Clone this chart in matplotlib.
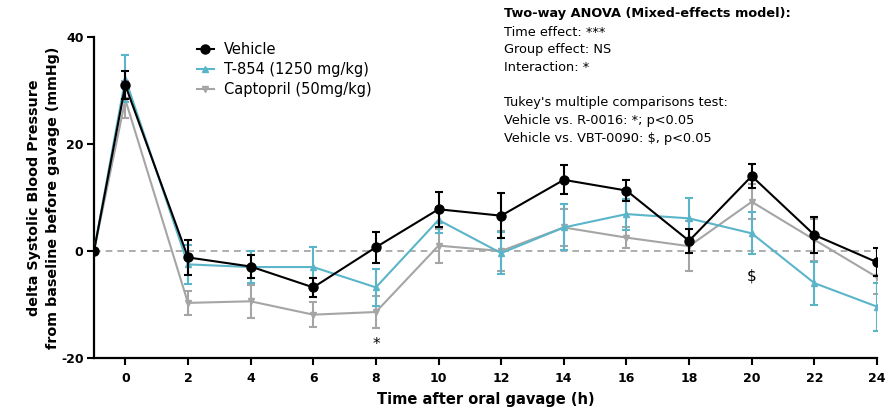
import matplotlib.pyplot as plt
from matplotlib.lines import Line2D

plt.rcParams['font.family'] = ['DejaVu Sans']
plt.rcParams['axes.unicode_minus'] = False

hours = [-1, 0, 2, 4, 6, 8, 10, 12, 14, 16, 18, 20, 22, 24]

vehicle = [0, 31.0, -1.2, -2.9, -6.8, 0.7, 7.8, 6.6, 13.3, 11.3, 1.9, 14.0, 3.0, -2.1]
vehicle_sem = [0, 2.6, 3.2, 2.1, 1.8, 2.9, 3.3, 4.2, 2.7, 2.0, 2.2, 2.3, 3.4, 2.6]

t854 = [0, 32.2, -2.5, -3.0, -3.0, -6.8, 5.8, -0.4, 4.4, 6.9, 6.1, 3.3, -6.0, -10.4]
t854_sem = [0, 4.4, 3.6, 3.0, 3.8, 3.4, 2.5, 3.9, 4.3, 2.9, 3.8, 3.9, 4.0, 4.5]

captopril = [0, 28.3, -9.7, -9.4, -11.9, -11.4, 1.0, 0.0, 4.4, 2.5, 0.9, 9.2, 2.1, -4.9]
captopril_sem = [0, 3.5, 2.2, 3.1, 2.3, 3.0, 3.2, 3.8, 3.4, 2.0, 4.7, 3.3, 3.9, 3.2]

xticks = list(range(0, 25, 2))
yticks = [-20, 0, 20, 40]

stats_lines = [
    "Time effect: ***",
    "Group effect: NS",
    "Interaction: *",
    "",
    "Tukey's multiple comparisons test:",
    "Vehicle vs. R-0016: *; p<0.05",
    "Vehicle vs. VBT-0090: $, p<0.05",
]

fig = plt.figure(figsize=(8.96, 4.18), dpi=100)
ax = fig.add_axes([94 / 896, 60 / 418, 783 / 896, 321 / 418])

ax.axhline(0, color='#a0a0a0', linestyle=(0, (4, 3)), linewidth=1.2, zorder=1)

ax.errorbar(hours, captopril, yerr=captopril_sem, color='#a5a5a5', marker='v', markersize=5,
            linewidth=1.5, capsize=3, capthick=1.5, elinewidth=1.5, zorder=2)
ax.errorbar(hours, t854, yerr=t854_sem, color='#5bb5c9', marker='^', markersize=5,
            linewidth=1.5, capsize=3, capthick=1.5, elinewidth=1.5, zorder=3)
ax.errorbar(hours, vehicle, yerr=vehicle_sem, color='black', marker='o', markersize=6.5,
            linewidth=1.5, capsize=3, capthick=1.5, elinewidth=1.5, zorder=4)

ax.text(8, -17.5, '*', ha='center', va='center', fontsize=11)
ax.text(20, -4.6, '$', ha='center', va='center', fontsize=11)

ax.set_xlim(-1, 24)
ax.set_ylim(-20, 40)
ax.set_xticks(xticks)
ax.set_yticks(yticks)
for lab in ax.get_xticklabels() + ax.get_yticklabels():
    lab.set_fontweight('bold')
    lab.set_fontsize(9)
ax.tick_params(direction='out', length=5, width=1.5)
ax.tick_params(axis='x', pad=5)
ax.tick_params(axis='y', pad=2.5)

ax.spines['top'].set_visible(False)
ax.spines['right'].set_visible(False)
ax.spines['left'].set_linewidth(1.6)
ax.spines['bottom'].set_linewidth(1.6)

ax.set_xlabel('Time after oral gavage (h)', fontweight='bold', fontsize=10.5, labelpad=5)
ax.set_ylabel('delta Systolic Blood Pressure\nfrom baseline before gavage (mmHg)',
              fontweight='bold', fontsize=10.3, labelpad=0.5, linespacing=1.45)

handles = [
    Line2D([], [], color='black', marker='o', markersize=6.5, linewidth=1.5),
    Line2D([], [], color='#5bb5c9', marker='^', markersize=5, linewidth=1.5),
    Line2D([], [], color='#a5a5a5', marker='v', markersize=5, linewidth=1.5),
]
labels = ['Vehicle', 'T-854 (1250 mg/kg)', 'Captopril (50mg/kg)']
ax.legend(handles, labels, loc='upper left', bbox_to_anchor=(0.131, 0.985),
          frameon=False, fontsize=10.5, handlelength=1.2, handletextpad=0.7,
          labelspacing=0.35, borderpad=0, borderaxespad=0)

fig.text(504 / 896, 1 - 14 / 418, 'Two-way ANOVA (Mixed-effects model):', fontweight='bold',
         fontsize=9.3, va='center')
for i, line in enumerate(stats_lines):
    fig.text(504 / 896, 1 - (32 + i * 17.7) / 418, line, fontsize=9.3, va='center')

fig.savefig('out.png', dpi=100)
